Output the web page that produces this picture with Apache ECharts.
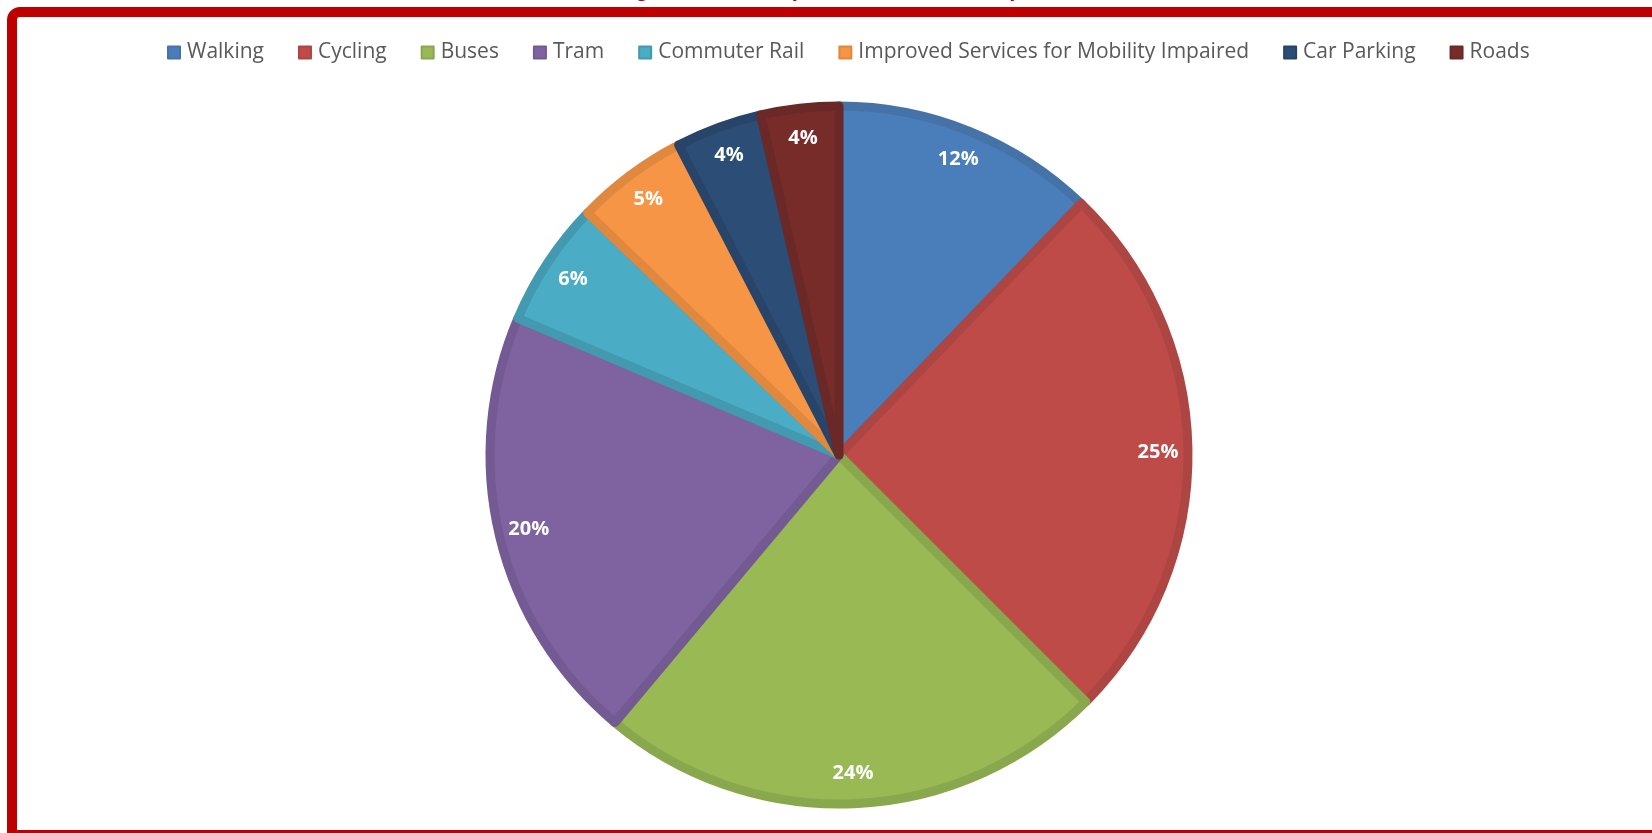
<!DOCTYPE html>
<html>
<head>
<meta charset="utf-8">
<title>Transport Priorities of Respondents</title>
<script src="https://cdn.jsdelivr.net/npm/echarts@6/dist/echarts.min.js"></script>
<style>
  html, body { margin: 0; padding: 0; background: #ffffff; }
  #chart { width: 1652px; height: 833px; }
</style>
</head>
<body>
<div id="chart"></div>
<script>
// Share of respondents by transport priority (percent)
const categories = ['Walking', 'Cycling', 'Buses', 'Tram', 'Commuter Rail',
  'Improved Services for Mobility Impaired', 'Car Parking', 'Roads'];
const shares = [12.2, 25.3, 23.6, 20.3, 5.8, 5.2, 4.0, 3.6];

// Slice fill and edge colours
const fillColors = ['#4a7ebb', '#be4b48', '#98b954', '#7f63a1', '#4aacc5', '#f59545', '#2c4d75', '#772c2a'];
const edgeColors = ['#4572a7', '#ad4542', '#89a84d', '#735a92', '#4399b0', '#e0883e', '#284569', '#6a2826'];

const titleText = 'Figure 4.1: Transport Priorities of Respondents';

const chart = echarts.init(document.getElementById('chart'), null, { renderer: 'canvas' });

const cx = 839, cy = 455, R = 353;

const sliceData = categories.map((name, i) => ({
  name,
  value: shares[i],
  itemStyle: { color: fillColors[i], borderColor: edgeColors[i], borderWidth: 9 }
}));

const labelData = categories.map((name, i) => ({ name, value: shares[i] }));

chart.setOption({
  animation: false,
  backgroundColor: '#ffffff',
  color: fillColors,
  legend: {
    data: categories,
    top: 37,
    left: 162,
    itemWidth: 12,
    itemHeight: 12,
    itemGap: 34,
    icon: 'rect',
    textStyle: { fontFamily: 'Open Sans', fontSize: 21, color: '#595959', padding: [0, 0, 0, 2] }
  },
  graphic: [
    {
      type: 'text',
      z: 1,
      style: {
        text: titleText,
        x: 862,
        y: 1,
        align: 'center',
        verticalAlign: 'bottom',
        font: 'bold 22px "Liberation Sans"',
        fill: '#c00000'
      }
    },
    {
      type: 'rect',
      z: 10,
      silent: true,
      shape: { x: 12, y: 12, width: 1700, height: 823, r: [8, 0, 0, 0] },
      style: { fill: null, stroke: '#c00000', lineWidth: 10 }
    }
  ],
  series: [
    {
      type: 'pie',
      center: [cx, cy],
      radius: [0, R - 4],
      startAngle: 90,
      clockwise: true,
      silent: true,
      label: { show: false },
      labelLine: { show: false },
      data: sliceData
    },
    {
      // transparent ring used only to place the percent labels near the rim
      type: 'pie',
      center: [cx, cy],
      radius: [279, R],
      startAngle: 90,
      clockwise: true,
      silent: true,
      percentPrecision: 0,
      itemStyle: { color: 'rgba(0,0,0,0)', borderWidth: 0 },
      label: {
        show: true,
        position: 'inside',
        formatter: '{d}%',
        color: '#ffffff',
        fontFamily: 'Open Sans',
        fontWeight: 'bold',
        fontSize: 20
      },
      labelLine: { show: false },
      data: labelData
    }
  ]
});
</script>
</body>
</html>
